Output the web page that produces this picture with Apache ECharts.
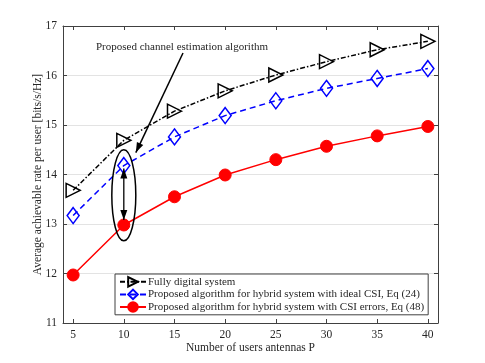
<!DOCTYPE html>
<html><head><meta charset="utf-8">
<script src="https://cdn.jsdelivr.net/npm/echarts@6/dist/echarts.min.js"></script>
<style>html,body{margin:0;padding:0;background:#fff}#c{width:485px;height:363px}</style>
</head><body><div id="c"></div>
<script>
const xValues = [5, 10, 15, 20, 25, 30, 35, 40];
const fullyDigital = [13.68, 14.69, 15.28, 15.69, 16.01, 16.28, 16.52, 16.69];
const hybridIdeal = [13.17, 14.18, 14.76, 15.19, 15.49, 15.74, 15.94, 16.14];
const hybridErrors = [11.97, 12.98, 13.55, 13.99, 14.30, 14.57, 14.78, 14.97];
const xTicks = [5, 10, 15, 20, 25, 30, 35, 40];
const yTicks = [11, 12, 13, 14, 15, 16, 17];
const seriesNames = [
  'Fully digital system',
  'Proposed algorithm for hybrid system with ideal CSI, Eq (24)',
  'Proposed algorithm for hybrid system with CSI errors, Eq (48)'
];
const annotationText = 'Proposed channel estimation algorithm';

const FONT = 'Liberation Serif';
const TXT = '#262626';
const chart = echarts.init(document.getElementById('c'), null, {renderer: 'canvas'});
const pair = a => xValues.map((x, i) => [x, a[i]]);
const axisCommon = {
  axisLine: {show: true, lineStyle: {color: '#404040', width: 1}},
  axisTick: {show: true, inside: true, length: 4, lineStyle: {color: '#404040'}},
  axisLabel: {color: TXT, fontFamily: FONT, fontSize: 11.5},
  splitLine: {show: true, lineStyle: {color: '#e3e3e3', width: 1}}
};
chart.setOption({
  animation: false,
  backgroundColor: '#fff',
  grid: {left: 63, right: 47, top: 26, bottom: 40},
  xAxis: [
    Object.assign({}, axisCommon, {type: 'value', min: 4, max: 41, interval: 5,
      axisLabel: Object.assign({}, axisCommon.axisLabel, {margin: 6,
        customValues: xTicks}),
      axisTick: Object.assign({}, axisCommon.axisTick, {customValues: xTicks}),
      splitLine: {show: false},
      name: 'Number of users antennas P', nameLocation: 'middle', nameGap: 19,
      nameMoveOverlap: false,
      nameTextStyle: {color: TXT, fontFamily: FONT, fontSize: 11.5}}),
    Object.assign({}, axisCommon, {type: 'value', min: 4, max: 41, position: 'top',
      axisLabel: {show: false}, splitLine: {show: false},
      axisTick: Object.assign({}, axisCommon.axisTick, {customValues: xTicks})})
  ],
  yAxis: [
    Object.assign({}, axisCommon, {type: 'value', min: 11, max: 17, interval: 1,
      axisLabel: Object.assign({}, axisCommon.axisLabel, {margin: 6}),
      name: 'Average achievable rate per user [bits/s/Hz]', nameLocation: 'middle', nameGap: 19,
      nameMoveOverlap: false,
      nameTextStyle: {color: TXT, fontFamily: FONT, fontSize: 11.5}}),
    Object.assign({}, axisCommon, {type: 'value', min: 11, max: 17, interval: 1, position: 'right',
      axisLabel: {show: false}, splitLine: {show: false}})
  ],
  legend: {
    orient: 'vertical', left: 115, top: 274, width: 320,
    backgroundColor: '#fff', borderColor: '#404040', borderWidth: 1,
    padding: [2, 4, 2, 4], itemGap: 1, itemWidth: 26, itemHeight: 12,
    textStyle: {color: TXT, fontFamily: FONT, fontSize: 11, padding: [0, 0, 0, -3]},
    data: seriesNames
  },
  series: [
    {name: seriesNames[0], type: 'line', data: pair(fullyDigital),
      symbol: 'triangle', symbolRotate: -90, symbolSize: 14,
      lineStyle: {color: '#000', width: 1.5, type: [5, 2, 1.5, 2]},
      itemStyle: {color: 'rgba(0,0,0,0)', borderColor: '#000', borderWidth: 1.5}, z: 3},
    {name: seriesNames[1], type: 'line', data: pair(hybridIdeal),
      symbol: 'diamond', symbolSize: [12, 16],
      lineStyle: {color: '#0000ff', width: 1.5, type: [6, 4]},
      itemStyle: {color: 'rgba(0,0,0,0)', borderColor: '#0000ff', borderWidth: 1.5}, z: 3},
    {name: seriesNames[2], type: 'line', data: pair(hybridErrors),
      symbol: 'circle', symbolSize: 12,
      lineStyle: {color: '#ff0000', width: 1.5},
      itemStyle: {color: '#ff0000', borderColor: '#ff0000', borderWidth: 1}, z: 3}
  ]
});

// annotations positioned via the chart scale
const p = v => chart.convertToPixel({xAxisIndex: 0, yAxisIndex: 0}, v);
const top10 = p([10, hybridIdeal[1]]);
const bot10 = p([10, hybridErrors[1]]);
const cx = top10[0], cy = (top10[1] + bot10[1]) / 2;
const arrowStart = [183, 53];
const arrowEnd = [cx + 12, top10[1] - 13];
function arrowHead(tip, from, len, half) {
  const dx = tip[0] - from[0], dy = tip[1] - from[1];
  const L = Math.hypot(dx, dy), ux = dx / L, uy = dy / L;
  const bx = tip[0] - ux * len, by = tip[1] - uy * len;
  return [tip, [bx - uy * half, by + ux * half], [bx + uy * half, by - ux * half]];
}
const aTop = [cx, top10[1] + 3], aBot = [cx, bot10[1] - 5];
chart.setOption({
  graphic: [
    {type: 'text', left: 96, top: 42, z: 10,
      style: {text: annotationText, fill: TXT, font: '11px "' + FONT + '"'}},
    {type: 'line', z: 10, shape: {x1: arrowStart[0], y1: arrowStart[1], x2: arrowEnd[0], y2: arrowEnd[1]},
      style: {stroke: '#000', lineWidth: 1.5}},
    {type: 'polygon', z: 10, shape: {points: arrowHead(arrowEnd, arrowStart, 10, 3.5)}, style: {fill: '#000'}},
    {type: 'ellipse', z: 10, shape: {cx: cx, cy: cy, rx: 12, ry: 45.5},
      style: {fill: 'none', stroke: '#000', lineWidth: 1.5}},
    {type: 'line', z: 10, shape: {x1: aTop[0], y1: aTop[1], x2: aBot[0], y2: aBot[1]},
      style: {stroke: '#000', lineWidth: 1.3}},
    {type: 'polygon', z: 10, shape: {points: arrowHead(aTop, aBot, 10, 3.5)}, style: {fill: '#000'}},
    {type: 'polygon', z: 10, shape: {points: arrowHead(aBot, aTop, 10, 3.5)}, style: {fill: '#000'}}
  ]
});
</script></body></html>
